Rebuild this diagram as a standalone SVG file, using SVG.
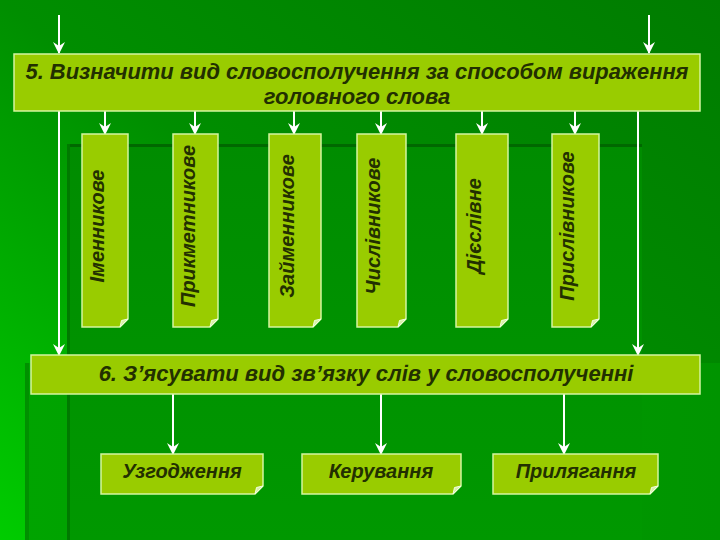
<svg xmlns="http://www.w3.org/2000/svg" width="720" height="540" viewBox="0 0 720 540">
<defs>
<linearGradient id="bg" x1="1" y1="0" x2="0" y2="1">
<stop offset="0" stop-color="#007C00"/>
<stop offset="0.5" stop-color="#008E00"/>
<stop offset="1" stop-color="#00CC00"/>
</linearGradient>
<linearGradient id="ga" x1="0" y1="0" x2="0" y2="1">
<stop offset="0" stop-color="#008C00"/>
<stop offset="1" stop-color="#009800"/>
</linearGradient>
<linearGradient id="gb" x1="0" y1="0" x2="1" y2="0">
<stop offset="0" stop-color="#00A400"/>
<stop offset="1" stop-color="#009400"/>
</linearGradient>
<marker id="ah" markerWidth="12" markerHeight="12" viewBox="0 0 12 12" refX="11" refY="6" orient="auto" markerUnits="userSpaceOnUse">
<path d="M0,0 L12,6 L0,12 L4,6 Z" fill="#FFFFFF"/>
</marker>
<style>
.box{fill:#99CC00;stroke:#D4F5A0;stroke-width:1.5}
.fold{fill:#D8F0A8;stroke:#F0FFE0;stroke-width:1}
.t{font-family:"Liberation Sans",Arial,sans-serif;font-weight:bold;font-style:italic;fill:#223000;text-anchor:middle}
.c{stroke:#FFFFFF;stroke-width:2;fill:none;marker-end:url(#ah)}
</style>
</defs>
<rect x="0" y="0" width="720" height="540" fill="url(#bg)"/>
<rect x="25" y="363" width="695" height="177" fill="url(#gb)"/>
<rect x="25" y="363" width="4" height="177" fill="#009000"/>
<rect x="67" y="145" width="575" height="395" fill="url(#ga)"/>
<rect x="67" y="144" width="575" height="3" fill="#006800"/>
<rect x="67" y="144" width="3" height="396" fill="#007A00"/>

<g id="connectors">
<line class="c" x1="59" y1="15" x2="59" y2="53"/>
<line class="c" x1="649" y1="15" x2="649" y2="53"/>
<line class="c" x1="59" y1="111" x2="59" y2="355"/>
<line class="c" x1="638" y1="111" x2="638" y2="355"/>
<line class="c" x1="105" y1="111" x2="105" y2="134"/>
<line class="c" x1="195" y1="111" x2="195" y2="134"/>
<line class="c" x1="294" y1="111" x2="294" y2="134"/>
<line class="c" x1="381" y1="111" x2="381" y2="134"/>
<line class="c" x1="482" y1="111" x2="482" y2="134"/>
<line class="c" x1="575" y1="111" x2="575" y2="134"/>
<line class="c" x1="173" y1="394" x2="173" y2="454"/>
<line class="c" x1="381" y1="394" x2="381" y2="454"/>
<line class="c" x1="564" y1="394" x2="564" y2="454"/>
</g>

<g id="step5">
<rect class="box" x="14" y="54" width="686" height="57"/>
<text class="t" x="357" y="79" font-size="22" textLength="663" lengthAdjust="spacingAndGlyphs">5. Визначити вид словосполучення за способом вираження</text>
<text class="t" x="357" y="104" font-size="22">головного слова</text>
</g>

<g id="n-imennykove">
<path class="box" d="M82,134 H128 V319 L120,327 H82 Z"/>
<path class="fold" d="M128,319 L120,327 L121.5,320.5 Z"/>
<text class="t" font-size="20" transform="translate(104,226) rotate(-90)">Іменникове</text>
</g>
<g id="n-prykmetnykove">
<path class="box" d="M173,134 H218 V319 L210,327 H173 Z"/>
<path class="fold" d="M218,319 L210,327 L211.5,320.5 Z"/>
<text class="t" font-size="20" transform="translate(195,226) rotate(-90)">Прикметникове</text>
</g>
<g id="n-zaimennykove">
<path class="box" d="M269,134 H321 V319 L313,327 H269 Z"/>
<path class="fold" d="M321,319 L313,327 L314.5,320.5 Z"/>
<text class="t" font-size="20" transform="translate(294,226) rotate(-90)">Займенникове</text>
</g>
<g id="n-chyslivnykove">
<path class="box" d="M357,134 H406 V319 L398,327 H357 Z"/>
<path class="fold" d="M406,319 L398,327 L399.5,320.5 Z"/>
<text class="t" font-size="20" transform="translate(380,226) rotate(-90)">Числівникове</text>
</g>
<g id="n-diieslivne">
<path class="box" d="M456,134 H508 V319 L500,327 H456 Z"/>
<path class="fold" d="M508,319 L500,327 L501.5,320.5 Z"/>
<text class="t" font-size="20" transform="translate(481,226) rotate(-90)">Дієслівне</text>
</g>
<g id="n-pryslivnykove">
<path class="box" d="M552,134 H599 V319 L591,327 H552 Z"/>
<path class="fold" d="M599,319 L591,327 L592.5,320.5 Z"/>
<text class="t" font-size="20" transform="translate(574,226) rotate(-90)">Прислівникове</text>
</g>

<g id="step6">
<rect class="box" x="31" y="355" width="669" height="39"/>
<text class="t" x="366" y="381" font-size="22">6. З’ясувати вид зв’язку слів у словосполученні</text>
</g>

<g id="n-uzgodzhennia">
<path class="box" d="M101,454 H263 V486 L255,494 H101 Z"/>
<path class="fold" d="M263,486 L255,494 L256.5,487.5 Z"/>
<text class="t" x="182" y="478" font-size="20">Узгодження</text>
</g>
<g id="n-keruvannia">
<path class="box" d="M302,454 H461 V486 L453,494 H302 Z"/>
<path class="fold" d="M461,486 L453,494 L454.5,487.5 Z"/>
<text class="t" x="381" y="478" font-size="20">Керування</text>
</g>
<g id="n-pryliahannia">
<path class="box" d="M493,454 H658 V486 L650,494 H493 Z"/>
<path class="fold" d="M658,486 L650,494 L651.5,487.5 Z"/>
<text class="t" x="576" y="478" font-size="20">Прилягання</text>
</g>
</svg>
